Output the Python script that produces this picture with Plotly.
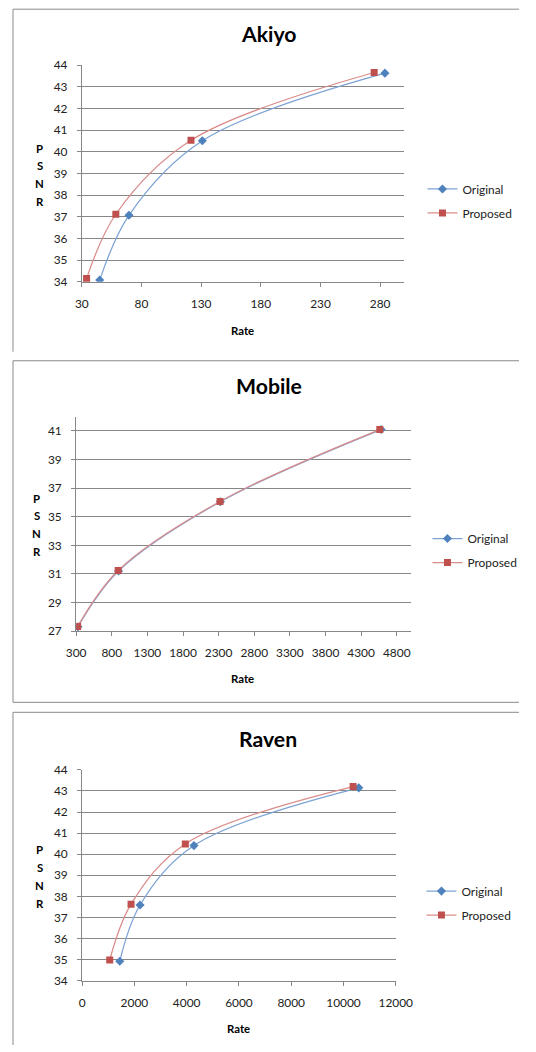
import plotly.graph_objects as go

# ---------------- data ----------------
akiyo_orig_rate = [45, 69.5, 131, 284]
akiyo_orig_psnr = [34.08, 37.07, 40.51, 43.63]
akiyo_prop_rate = [34, 58.5, 121.5, 275]
akiyo_prop_psnr = [34.15, 37.12, 40.53, 43.66]

mobile_orig_rate = [325, 895, 2325, 4580]
mobile_orig_psnr = [27.30, 31.20, 36.05, 41.10]
mobile_prop_rate = [322, 890, 2320, 4562]
mobile_prop_psnr = [27.33, 31.24, 36.07, 41.10]

raven_orig_rate = [1440, 2217, 4280, 10586]
raven_orig_psnr = [34.92, 37.59, 40.41, 43.15]
raven_prop_rate = [1057, 1873, 3949, 10369]
raven_prop_psnr = [34.98, 37.63, 40.49, 43.21]

titles = ["Akiyo", "Mobile", "Raven"]
series_names = ["Original", "Proposed"]

# ---------------- layout helpers ----------------
W, H = 536, 1052
FONT = "Lato"
GRID = "#878787"
TXT = "#222222"
BLUE_L, BLUE_M = "#7CA3D5", "#4F81BD"
RED_L, RED_M = "#D98C8A", "#C0504D"

# the photographed page is slightly rescaled; positions below are given in
# target-picture pixels and converted to figure pixels
SX, OX = 0.952, 9.0
SY, OY = 0.987, 6.8
FS = 1.035  # font compensation


def fx(p):
    return ((p - OX) / SX) / W


def fy(p):
    return 1 - ((p - OY) / SY) / H


panels = [
    dict(data=(akiyo_orig_rate, akiyo_orig_psnr, akiyo_prop_rate, akiyo_prop_psnr),
         px=(81, 404), py=(64, 281), xr=[30, 300], xt0=30, xdt=50,
         yr=[34, 44], yt0=34, ydt=1, title=(267.7, 33.3), rate=(242.3, 329.3),
         psnr_x=38.7, psnr_y=[147, 164.5, 182.7, 200.3], leg=(462, 189)),
    dict(data=(mobile_orig_rate, mobile_orig_psnr, mobile_prop_rate, mobile_prop_psnr),
         px=(75.3, 411), py=(416, 630.7), xr=[300, 5000], xt0=300, xdt=500,
         yr=[27, 42], yt0=27, ydt=2, title=(268.3, 385.7), rate=(242, 677.7),
         psnr_x=36, psnr_y=[497.7, 515, 532.7, 550.7], leg=(467, 539)),
    dict(data=(raven_orig_rate, raven_orig_psnr, raven_prop_rate, raven_prop_psnr),
         px=(81.3, 395.7), py=(769.7, 980.7), xr=[0, 12000], xt0=0, xdt=2000,
         yr=[34, 44], yt0=34, ydt=1, title=(267.3, 738.7), rate=(238.3, 1029),
         psnr_x=38.7, psnr_y=[849.3, 867.3, 885.3, 903.7], leg=(461, 892)),
]

fig = go.Figure()
annotations = []
shapes = []

for i, p in enumerate(panels):
    k = "" if i == 0 else str(i + 1)
    xa, ya = "x" + k, "y" + k
    leg = "legend" + k
    orx, ory, prx, pry = p["data"]
    fig.add_trace(go.Scatter(
        x=orx, y=ory, name=series_names[0], xaxis=xa, yaxis=ya, legend=leg,
        legendgroup="o" + k, mode="lines+markers",
        line=dict(color=BLUE_L, width=1.25, shape="spline", smoothing=1.0),
        marker=dict(symbol="diamond", size=7, color=BLUE_M)))
    fig.add_trace(go.Scatter(
        x=prx, y=pry, name=series_names[1], xaxis=xa, yaxis=ya, legend=leg,
        legendgroup="p" + k, mode="lines+markers",
        line=dict(color=RED_L, width=1.25, shape="spline", smoothing=1.0),
        marker=dict(symbol="square", size=7, color=RED_M)))

    axis_common = dict(showgrid=True, gridcolor=GRID, gridwidth=1,
                       showline=True, linecolor=GRID, linewidth=1,
                       ticks="outside", ticklen=4, tickcolor=GRID,
                       zeroline=False,
                       tickfont=dict(family=FONT, size=11.5 * FS, color=TXT),
                       fixedrange=True, tickformat="d")
    xaxis = dict(axis_common, domain=[fx(p["px"][0]), fx(p["px"][1])],
                 range=p["xr"], tick0=p["xt0"], dtick=p["xdt"], tickmode="linear",
                 anchor=ya, showgrid=False, ticklabelstandoff=7)
    yaxis = dict(axis_common, domain=[fy(p["py"][1]), fy(p["py"][0])],
                 range=p["yr"], tick0=p["yt0"], dtick=p["ydt"], tickmode="linear",
                 anchor=xa, ticklabelstandoff=7)
    fig.update_layout(**{"xaxis" + k: xaxis, "yaxis" + k: yaxis})

    # legend: text start / first-row centre in target pixels
    lx = (p["leg"][0] - OX) / SX - 41.5
    ly = (p["leg"][1] - OY) / SY - 15.7
    fig.update_layout(**{leg: dict(
        x=lx / W, y=1 - ly / H, xanchor="left", yanchor="top",
        xref="paper", yref="paper", bgcolor="rgba(0,0,0,0)",
        font=dict(family=FONT, size=11.5 * FS, color=TXT),
        tracegroupgap=5, itemwidth=30)})

    # title
    annotations.append(dict(text="<b>%s</b>" % titles[i], x=fx(p["title"][0]), y=fy(p["title"][1]),
                            xref="paper", yref="paper", showarrow=False,
                            xanchor="center", yanchor="middle",
                            font=dict(family=FONT, size=20.5 * FS, color="#000000")))
    # x axis title
    annotations.append(dict(text="<b>Rate</b>", x=fx(p["rate"][0]), y=fy(p["rate"][1]),
                            xref="paper", yref="paper", showarrow=False,
                            xanchor="center", yanchor="middle",
                            font=dict(family=FONT, size=11 * FS, color="#000000")))
    # y axis title, stacked letters
    for ch, yy in zip("PSNR", p["psnr_y"]):
        annotations.append(dict(text="<b>%s</b>" % ch, x=fx(p["psnr_x"]), y=fy(yy),
                                xref="paper", yref="paper", showarrow=False,
                                xanchor="center", yanchor="middle",
                                font=dict(family=FONT, size=11 * FS, color="#000000")))

# panel borders (kept inside the page so nothing overflows)
BORDER = dict(color="#8A8A8A", width=1)
shapes.append(dict(type="path", xref="paper", yref="paper",
                   path="M %f %f L %f %f L %f %f" % (fx(12), fy(351), fx(12), fy(8), 1.0, fy(8)),
                   line=BORDER))
shapes.append(dict(type="path", xref="paper", yref="paper",
                   path="M %f %f L %f %f L %f %f L %f %f" % (1.0, fy(360), fx(12), fy(360),
                                                             fx(12), fy(702), 1.0, fy(702)),
                   line=BORDER))
shapes.append(dict(type="path", xref="paper", yref="paper",
                   path="M %f %f L %f %f L %f %f" % (fx(12), 0.0, fx(12), fy(712), 1.0, fy(712)),
                   line=BORDER))

fig.update_layout(width=W, height=H, margin=dict(l=0, r=0, t=0, b=0),
                  paper_bgcolor="white", plot_bgcolor="white",
                  annotations=annotations, shapes=shapes, showlegend=True,
                  font=dict(family=FONT))

fig.write_html("out.html", config={"displayModeBar": False},
               post_script="document.body.style.margin='0';document.body.style.overflow='hidden';")
